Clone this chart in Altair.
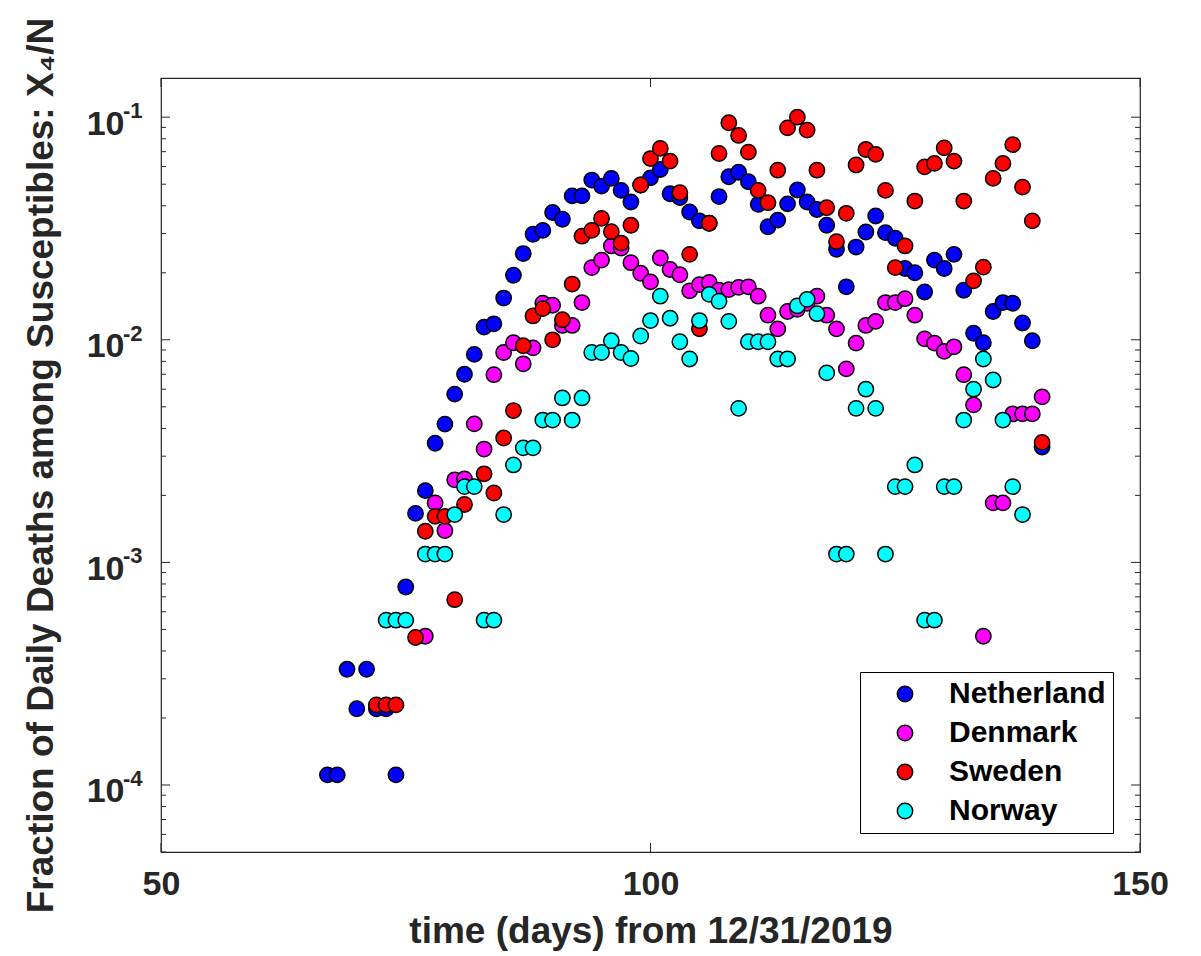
import pandas as pd
import altair as alt

# Daily deaths among susceptibles (fraction)
nl_days = list(range(67, 141))
nl_vals = [1.11e-4, 1.11e-4, 3.31e-4, 2.2e-4, 3.31e-4, 2.2e-4, 2.2e-4, 1.11e-4,
           7.75e-4, 1.66e-3, 2.1e-3, 3.43e-3, 4.18e-3, 5.7e-3, 7.0e-3, 8.6e-3,
           0.0114, 0.0118, 0.0154, 0.0195, 0.0244, 0.0298, 0.031, 0.0373,
           0.0348, 0.0443, 0.0443, 0.0522, 0.049, 0.0531, 0.0469, 0.0416,
           0.0496, 0.0534, 0.0582, 0.0453, 0.0435, 0.0375, 0.0342, 0.0334,
           0.044, 0.054, 0.0566, 0.0513, 0.0406, 0.0322, 0.0345, 0.0408,
           0.0471, 0.0416, 0.0385, 0.0327, 0.0255, 0.0173, 0.0261, 0.0305,
           0.036, 0.0303, 0.0286, 0.0209, 0.0200, 0.0164, 0.0228, 0.0209,
           0.0242, 0.0167, 0.0107, 0.0097, 0.0134, 0.0147, 0.0146, 0.0119,
           0.0099, 0.0033]

dk_days = list(range(77, 141))
dk_vals = [4.66e-4, 1.85e-3, 1.39e-3, 2.35e-3, 2.37e-3, 4.19e-3, 3.23e-3,
           6.97e-3, 8.77e-3, 0.0097, 0.0078, 0.0092, 0.0146, 0.0143, 0.0116,
           0.0116, 0.0147, 0.0211, 0.0228, 0.0264, 0.0258, 0.0222, 0.0199,
           0.0182, 0.0233, 0.0207, 0.0196, 0.0166, 0.0177, 0.0181, 0.0167,
           0.0168, 0.0172, 0.0173, 0.0157, 0.0129, 0.0112, 0.0134, 0.0137,
           0.0146, 0.0157, 0.0129, 0.0112, 0.0074, 0.00966, 0.0116, 0.0121,
           0.0147, 0.0147, 0.0153, 0.0129, 0.0101, 0.00966, 0.00887, 0.0093,
           0.00697, 0.0051, 4.66e-4, 1.85e-3, 1.85e-3, 4.65e-3, 4.65e-3,
           4.65e-3, 5.54e-3]

se_days = [72, 73, 74, 76, 77, 78, 79, 80, 81, 83, 84, 85, 86] + list(range(87, 141))
se_vals = [2.29e-4, 2.29e-4, 2.29e-4, 4.6e-4, 1.38e-3, 1.61e-3, 1.61e-3,
           6.8e-4, 1.82e-3, 2.5e-3, 2.05e-3, 3.62e-3, 4.81e-3,
           0.0094, 0.0128, 0.0138, 0.0100, 0.0123, 0.0178, 0.0292, 0.031,
           0.0351, 0.0306, 0.0272, 0.0327, 0.0496, 0.0652, 0.0724, 0.0635,
           0.0458, 0.0242, 0.0112, 0.0334, 0.0687, 0.0944, 0.0828, 0.0697,
           0.0469, 0.0413, 0.0578, 0.0895, 0.100, 0.0875, 0.0578, 0.0392,
           0.0276, 0.037, 0.061, 0.0716, 0.0681, 0.0469, 0.0211, 0.0264,
           0.042, 0.0598, 0.0620, 0.0728, 0.0635, 0.042, 0.0184, 0.0212,
           0.0531, 0.062, 0.0753, 0.0485, 0.0342, 0.00346]

no_days = [73, 74, 75] + list(range(77, 139))
no_vals = [5.5e-4, 5.5e-4, 5.5e-4, 1.09e-3, 1.09e-3, 1.09e-3, 1.64e-3,
           2.19e-3, 2.19e-3, 5.5e-4, 5.5e-4, 1.64e-3, 2.74e-3, 3.27e-3,
           3.27e-3, 4.36e-3, 4.36e-3, 5.48e-3, 4.36e-3, 5.48e-3, 8.77e-3,
           8.77e-3, 0.0099, 8.77e-3, 8.24e-3, 0.0104, 0.0122, 0.0157, 0.0125,
           0.0098, 0.0082, 0.0122, 0.016, 0.0149, 0.0121, 4.92e-3, 0.0098,
           0.0098, 0.0098, 0.0082, 0.0082, 0.0142, 0.0152, 0.0131, 0.0071,
           1.09e-3, 1.09e-3, 4.92e-3, 6.0e-3, 4.92e-3, 1.09e-3, 2.19e-3,
           2.19e-3, 2.74e-3, 5.5e-4, 5.5e-4, 2.19e-3, 2.19e-3, 4.36e-3,
           6.0e-3, 8.2e-3, 6.6e-3, 4.36e-3, 2.19e-3, 1.64e-3]

countries = ["Netherland", "Denmark", "Sweden", "Norway"]
colors = ["#0000ff", "#ff00ff", "#ff0000", "#00ffff"]

y_major = [1e-4, 1e-3, 1e-2, 1e-1]
y_exponents = ["-4", "-3", "-2", "-1"]
x_major = [50, 100, 150]

W, H = 979, 774
FONT = "Liberation Sans"
INK = "#262626"


def build_points() -> pd.DataFrame:
    """Long table, drawn in legend order so Norway sits on top."""
    frames = []
    for name, days, vals in zip(countries,
                                [nl_days, dk_days, se_days, no_days],
                                [nl_vals, dk_vals, se_vals, no_vals]):
        frames.append(pd.DataFrame({"day": days, "frac": vals, "country": name}))
    return pd.concat(frames, ignore_index=True)


points = build_points()

# Inward MATLAB-style ticks (major + log minor)
y_minor = [m * 10.0 ** k for k in range(-5, 0) for m in range(2, 10)]
y_minor = [t for t in y_minor if 5e-5 <= t <= 0.15]
major_df = pd.DataFrame({"t": y_major, "exp": y_exponents})
minor_df = pd.DataFrame({"t": y_minor})
xt = pd.DataFrame({"t": x_major})

x_scale = alt.Scale(domain=[50, 150], nice=False)
y_scale = alt.Scale(type="log", domain=[5e-5, 0.15], nice=False)

dots = alt.Chart(points).mark_point(
    filled=True, size=235, stroke="black", strokeWidth=1.5, opacity=1
).encode(
    x=alt.X("day:Q", scale=x_scale,
            axis=alt.Axis(values=x_major, title="time (days) from 12/31/2019",
                          labelPadding=15, titlePadding=12)),
    y=alt.Y("frac:Q", scale=y_scale,
            axis=alt.Axis(values=y_major, labelExpr="'10'", labelOffset=7,
                          title="Fraction of Daily Deaths among Susceptibles: X\u2084/N",
                          labelPadding=37, titlePadding=26)),
    color=alt.Color("country:N", title=None,
                    scale=alt.Scale(domain=countries, range=colors),
                    legend=alt.Legend(
                        orient="none", legendX=699, legendY=594,
                        strokeColor="black", fillColor="white", padding=7,
                        symbolOffset=23, symbolSize=235, symbolType="circle",
                        symbolStrokeColor="black", symbolStrokeWidth=1.5,
                        labelFont=FONT, labelFontSize=30, labelFontWeight="bold",
                        labelColor="black", labelOffset=29, rowPadding=9,
                        labelLimit=400,
                        labelExpr="datum.value === 'Netherland' ? '\u2002Netherland\u2002' : datum.value")),
)

# superscript part of the 10^k tick labels
exponents = alt.Chart(major_df).mark_text(
    align="left", baseline="alphabetic", font=FONT, fontSize=22,
    fontWeight="bold", color=INK, dy=1
).encode(y=alt.Y("t:Q", scale=y_scale), x=alt.value(-38), text="exp:N")


def y_tick_layer(df, x0, x1):
    return alt.Chart(df).mark_rule(color=INK, strokeWidth=1).encode(
        y=alt.Y("t:Q", scale=y_scale), x=alt.value(x0), x2=alt.value(x1))


def x_tick_layer(y0, y1):
    return alt.Chart(xt).mark_rule(color=INK, strokeWidth=1).encode(
        x=alt.X("t:Q", scale=x_scale), y=alt.value(y0), y2=alt.value(y1))


ticks = [
    y_tick_layer(major_df, 0, 9), y_tick_layer(minor_df, 0, 5),
    y_tick_layer(major_df, W, W - 9), y_tick_layer(minor_df, W, W - 5),
    x_tick_layer(H, H - 9), x_tick_layer(0, 9),
]

chart = alt.layer(*ticks, exponents, dots).properties(
    width=W, height=H, autosize="none",
    padding={"left": 153, "top": 70, "right": 40, "bottom": 104},
).configure_axis(
    ticks=False, domain=False, grid=False, labelFlush=False, labelOverlap=False,
    labelFont=FONT, labelFontSize=34, labelFontWeight="bold", labelColor=INK,
    titleFont=FONT, titleFontSize=37, titleFontWeight="bold", titleColor=INK,
).configure_view(
    stroke=INK, strokeWidth=1.2, fill="white"
)

chart.save("out.html", embed_options={"renderer": "svg", "actions": False})
